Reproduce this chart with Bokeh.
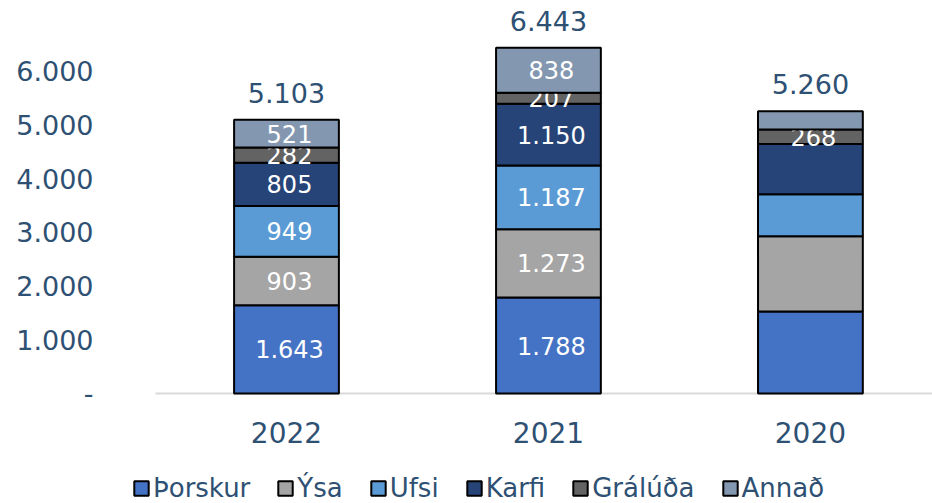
from bokeh.plotting import figure
from bokeh.models import Range1d, FixedTicker, ColumnDataSource, Legend, LegendItem
from bokeh.core.properties import value
from bokeh.embed import file_html
from bokeh.resources import INLINE

# ---- data ----
years = ["2022", "2021", "2020"]
species = ["Þorskur", "Ýsa", "Ufsi", "Karfi", "Grálúða", "Annað"]
thorskur = [1643, 1788, 1527]
ysa = [903, 1273, 1402]
ufsi = [949, 1187, 782]
karfi = [805, 1150, 940]
graluda = [282, 207, 268]
annad = [521, 838, 341]
totals = [5103, 6443, 5260]
# segments whose value label is not printed in the source chart
unlabeled = {"2020": ["Þorskur", "Ýsa", "Ufsi", "Karfi", "Annað"]}
y_ticks = [0, 1000, 2000, 3000, 4000, 5000, 6000]
y_tick_labels = ["-", "1.000", "2.000", "3.000", "4.000", "5.000", "6.000"]
colors = ["#4472C4", "#A5A5A5", "#5B9BD5", "#264478", "#636363", "#8497B0"]

series = [thorskur, ysa, ufsi, karfi, graluda, annad]
TXT = "#2E5073"
FONT = "DejaVu Sans"


def fmt(v):
    return f"{v:,}".replace(",", ".")


xs = list(range(len(years)))

# frame covers the whole height so that the legend row fits inside it;
# y < 0 is the space for the category labels and the legend
p = figure(width=932, height=503, output_backend="svg", toolbar_location=None,
           x_range=Range1d(-0.626, 2.466), y_range=Range1d(-2050, 7323),
           x_axis_location=None,
           min_border_left=122, min_border_right=0, min_border_top=0,
           min_border_bottom=0)
p.outline_line_color = None
p.background_fill_color = None
p.border_fill_color = "white"
p.xgrid.visible = False
p.ygrid.visible = False

# category axis line (baseline at 0)
p.segment(x0=[xs[0] - 0.5], y0=[0], x1=[p.x_range.end], y1=[0],
          line_color="#D9D9D9", line_width=2)

items = []
bottoms = [0] * len(years)
for name, vals, col in zip(species, series, colors):
    tops = [b + v for b, v in zip(bottoms, vals)]
    mids = [(b + t) / 2 for b, t in zip(bottoms, tops)]
    labels = ["" if name in unlabeled.get(y, []) else fmt(v)
              for y, v in zip(years, vals)]
    src = ColumnDataSource(dict(x=xs, bottom=bottoms, top=tops, mid=mids, lab=labels))
    r = p.vbar(x="x", bottom="bottom", top="top", width=0.4, source=src,
               fill_color=col, line_color="black", line_width=2)
    p.text(x="x", y="mid", text="lab", source=src, text_color="white",
           text_font=value(FONT), text_font_size="24px", text_align="center",
           text_baseline="middle", x_offset=3)
    items.append(LegendItem(label=name, renderers=[r]))
    bottoms = tops

# totals above bars
tsrc = ColumnDataSource(dict(x=xs, y=totals, lab=[fmt(t) for t in totals]))
p.text(x="x", y="y", text="lab", source=tsrc, text_color=TXT,
       text_font=value(FONT), text_font_size="27px", text_align="center",
       text_baseline="middle", y_offset=-27)

# category labels under the baseline
csrc = ColumnDataSource(dict(x=xs, y=[0] * len(xs), lab=years))
p.text(x="x", y="y", text="lab", source=csrc, text_color=TXT,
       text_font=value(FONT), text_font_size="28px", text_align="center",
       text_baseline="middle", y_offset=39)

# y axis
p.yaxis.ticker = FixedTicker(ticks=y_ticks)
p.yaxis.major_label_overrides = {t: l for t, l in zip(y_ticks, y_tick_labels)}
p.yaxis.axis_line_color = None
p.yaxis.major_tick_line_color = None
p.yaxis.minor_tick_line_color = None
p.yaxis.major_label_standoff = 23
p.yaxis.major_label_text_font = FONT
p.yaxis.major_label_text_font_size = "27px"
p.yaxis.major_label_text_color = TXT

legend = Legend(items=items, orientation="horizontal", location=(10, 0),
                glyph_width=18, glyph_height=18, label_standoff=3, spacing=26,
                padding=0, margin=0, border_line_color=None,
                background_fill_alpha=0,
                label_text_font=FONT, label_text_font_size="26px",
                label_text_color=TXT)
p.add_layout(legend, "center")

open("out.html", "w").write(file_html(p, INLINE))
